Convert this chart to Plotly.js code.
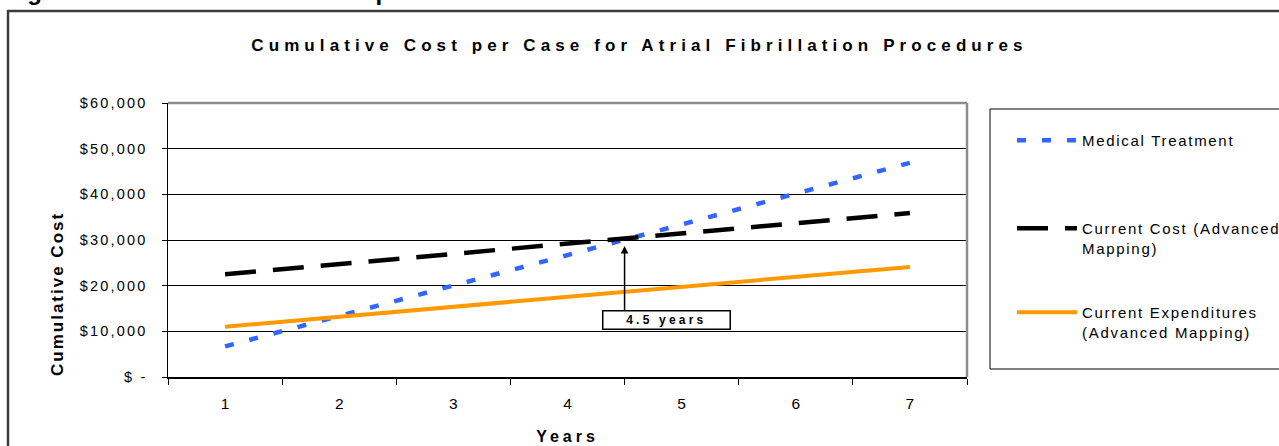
<!DOCTYPE html>
<html>
<head>
<meta charset="utf-8">
<script src="https://cdn.plot.ly/plotly-3.0.1.min.js"></script>
<style>
  html, body { margin: 0; padding: 0; background: #fff; overflow: hidden; }
  #chart { width: 1279px; height: 446px; }
  .gtitle { letter-spacing: 5.1px; }
  .ytick text { letter-spacing: 2.2px; }
  svg text.legendtext, svg text.legendtext tspan, g[class*="legend"] text { letter-spacing: 1.7px; }
  .xtitle { letter-spacing: 4px; }
  g.annotation[data-index="0"] text { letter-spacing: 0px; }
  g.annotation[data-index="1"] text { letter-spacing: 2px; }
  g.annotation[data-index="3"] text { letter-spacing: 3.2px; }
</style>
</head>
<body>
<div id="chart"></div>
<script>
// ---- data ----
const years = [1, 2, 3, 4, 5, 6, 7];
const medicalTreatment = [6700, 13300, 20000, 26700, 33400, 40100, 46900];
const currentCost = [22500, 24700, 27000, 29200, 31400, 33700, 35900];
const currentExpenditures = [11000, 13200, 15300, 17500, 19700, 21900, 24100];
const seriesNames = ['Medical Treatment', 'Current Cost (Advanced<br>Mapping)', 'Current Expenditures<br>(Advanced Mapping)'];
const yTickVals = [0, 10000, 20000, 30000, 40000, 50000, 60000];
const yTickText = ['$ -', '$10,000', '$20,000', '$30,000', '$40,000', '$50,000', '$60,000'];
const xTickText = ['1', '2', '3', '4', '5', '6', '7'];
const breakEvenYear = 4.5;
const breakEvenLabel = '4.5 years';

const SANS = '"Liberation Sans", Arial, sans-serif';

const traces = [
  { x: years, y: medicalTreatment, name: seriesNames[0], type: 'scatter', mode: 'lines',
    line: { color: '#3366FF', width: 4.5, dash: '9px,16px' }, legend: 'legend' },
  { x: years, y: currentCost, name: seriesNames[1], type: 'scatter', mode: 'lines',
    line: { color: '#000000', width: 4.5, dash: '31px,17px' }, legend: 'legend2' },
  { x: years, y: currentExpenditures, name: seriesNames[2], type: 'scatter', mode: 'lines',
    line: { color: '#FF9900', width: 4 }, legend: 'legend3' }
];

// plot-area geometry (pixels) -> paper conversion helpers
const W = 1279, H = 446, L = 168, R = 967, T = 103, B = 377;
const px = v => (v - L) / (R - L);
const py = v => (B - v) / (B - T);

const minorTicks = years.map(v => v - 0.5).concat([years[years.length - 1] + 0.5]);

const legendBase = {
  x: px(1012), xanchor: 'left', yanchor: 'top',
  bgcolor: 'rgba(0,0,0,0)', borderwidth: 0,
  font: { family: SANS, size: 15, color: '#000' },
  valign: 'top', itemwidth: 60
};

const layout = {
  width: W, height: H,
  margin: { l: L, r: W - R, t: T, b: H - B, autoexpand: false },
  paper_bgcolor: '#ffffff', plot_bgcolor: '#ffffff',
  showlegend: true,
  title: {
    text: '<b>Cumulative Cost per Case for Atrial Fibrillation Procedures</b>',
    font: { family: SANS, size: 17, color: '#000' },
    x: 0.5, xref: 'container', xanchor: 'center',
    y: 1 - 45 / H, yref: 'container', yanchor: 'middle'
  },
  xaxis: {
    range: [0.5, 7.5], tickvals: years, ticktext: xTickText,
    ticks: '', showgrid: false, zeroline: false,
    showline: true, linecolor: '#000', linewidth: 1.5,
    tickfont: { family: SANS, size: 15.5, color: '#000' },
    ticklabelstandoff: 12,
    minor: { tickvals: minorTicks, ticks: 'outside', ticklen: 6, tickwidth: 1, tickcolor: '#000', showgrid: false },
    title: { text: '<b>Years</b>', font: { family: SANS, size: 16, color: '#000' }, standoff: 19 },
    fixedrange: true
  },
  yaxis: {
    range: [0, 60000], tickvals: yTickVals, ticktext: yTickText,
    ticks: 'outside', ticklen: 5, tickwidth: 1, tickcolor: '#000',
    showgrid: true, gridcolor: '#000', gridwidth: 1, zeroline: false,
    showline: true, linecolor: '#000', linewidth: 1.5,
    tickfont: { family: SANS, size: 14.5, color: '#000' },
    ticklabelstandoff: 11,
    fixedrange: true
  },
  legend: Object.assign({}, legendBase, { y: py(124) }),
  legend2: Object.assign({}, legendBase, { y: py(212) }),
  legend3: Object.assign({}, legendBase, { y: py(296) }),
  shapes: [
    // outer frame
    { type: 'rect', xref: 'paper', yref: 'paper', x0: px(8), x1: px(1320), y0: py(480), y1: py(11),
      line: { color: '#3c3c3c', width: 2.5 }, fillcolor: 'rgba(0,0,0,0)', layer: 'above' },
    // plot-area top / right border (gray)
    { type: 'line', xref: 'paper', yref: 'paper', x0: 0, x1: 1, y0: 1, y1: 1, line: { color: '#8c8c8c', width: 2.5 } },
    { type: 'line', xref: 'paper', yref: 'paper', x0: 1, x1: 1, y0: 0, y1: 1, line: { color: '#8c8c8c', width: 2.5 } },
    // legend box
    { type: 'rect', xref: 'paper', yref: 'paper', x0: px(990), x1: px(1320), y0: py(369), y1: py(109),
      line: { color: '#000', width: 1 }, fillcolor: 'rgba(0,0,0,0)' }
  ],
  annotations: [
    // document heading above the frame (mostly cut off by the page edge)
    { xref: 'paper', yref: 'paper', x: px(4), xanchor: 'left', y: py(7), yanchor: 'bottom',
      text: '<b>Figure 11: Cumulative Cost Comparison</b>', showarrow: false,
      font: { family: SANS, size: 24, color: '#000' } },
    // y-axis title
    { xref: 'paper', yref: 'paper', x: px(57), y: py(294), xanchor: 'center', yanchor: 'middle',
      text: '<b>Cumulative Cost</b>', textangle: -90, showarrow: false,
      font: { family: SANS, size: 17, color: '#000' } },
    // break-even arrow
    { xref: 'x', yref: 'y', x: breakEvenYear, y: 28700, text: '', showarrow: true,
      ax: 0, ay: 66, arrowhead: 2, arrowsize: 1, arrowwidth: 1.5, arrowcolor: '#000' },
    // break-even label box
    { xref: 'x', yref: 'y', x: breakEvenYear + 0.365, y: 12450, text: '<b>' + breakEvenLabel + '</b>',
      showarrow: false, bgcolor: '#fff', bordercolor: '#000', borderwidth: 1.5, borderpad: 1,
      width: 124, height: 15, align: 'center',
      font: { family: SANS, size: 12, color: '#000' } }
  ],
  hovermode: false
};

function unclipLegends(gd) {
  // legend clip boxes are sized before the letter spacing takes effect; lift them
  gd.querySelectorAll('.infolayer g[class^="legend"], .infolayer g[class^="legend"] *').forEach(el => {
    if (el.hasAttribute('clip-path')) el.removeAttribute('clip-path');
  });
}

Plotly.newPlot('chart', traces, layout, { staticPlot: true, displayModeBar: false }).then(gd => {
  unclipLegends(gd);
  requestAnimationFrame(() => unclipLegends(gd));
  setTimeout(() => unclipLegends(gd), 50);
});
</script>
</body>
</html>
